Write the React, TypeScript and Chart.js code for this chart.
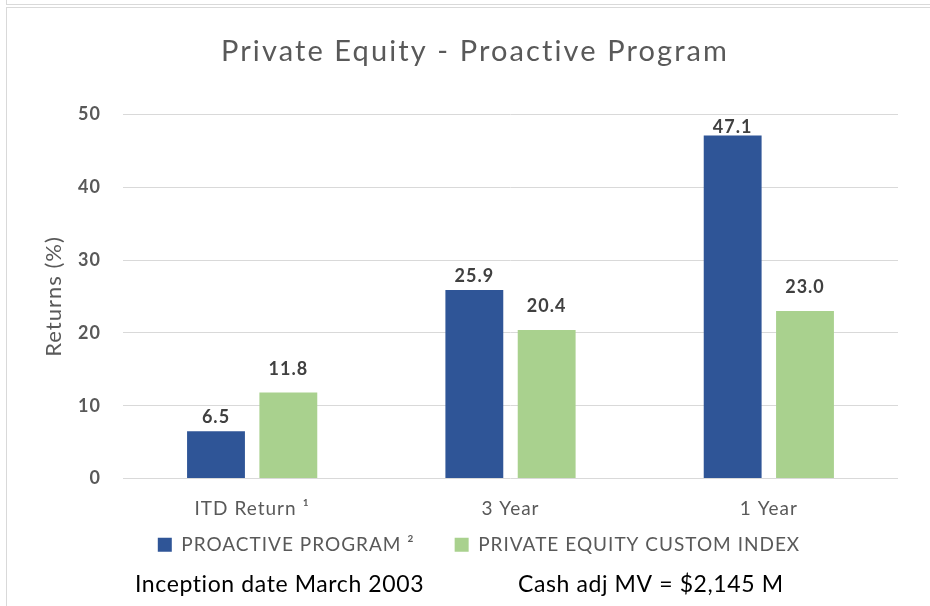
import React, { useEffect, useRef } from "react";
import { Chart, registerables } from "chart.js";

Chart.register(...registerables);

const categories = ["ITD Return \u00B9", "3 Year", "1 Year"];
const seriesNames = ["PROACTIVE PROGRAM \u00B2", "PRIVATE EQUITY CUSTOM INDEX"];
const proactiveValues = [6.5, 25.9, 47.1];
const indexValues = [11.8, 20.4, 23.0];
const yTicks = [0, 10, 20, 30, 40, 50];
const titleText = "Private Equity - Proactive Program";
const yAxisTitle = "Returns (%)";
const footerLeft = "Inception date March 2003";
const footerRight = "Cash adj MV = $2,145 M";

const BLUE = "#2F5597";
const GREEN = "#A9D18E";
const GRAY = "#595959";
const FONT = "Lato, 'Open Sans', sans-serif";

const labelOffsets = [8, 18];
const LEGEND_PAD = 40;
const LEGEND_ITEM_Y = 535.2;
const LEGEND_SHIFT_X = 4;

const spacingPlugin = {
  id: "letterSpacing",
  beforeUpdate(chart: any) {
    chart.ctx.letterSpacing = "1px";
  },
  beforeDraw(chart: any) {
    chart.ctx.letterSpacing = "1px";
  },
  afterLayout(chart: any) {
    const lg = chart.legend;
    if (lg) {
      const h = lg.bottom - lg.top;
      lg.top = LEGEND_ITEM_Y - LEGEND_PAD;
      lg.bottom = lg.top + h;
      lg.left += LEGEND_SHIFT_X;
      lg.right += LEGEND_SHIFT_X;
    }
    const tb = chart.titleBlock;
    if (tb && !tb._spacedDraw) {
      const orig = tb.draw.bind(tb);
      tb.draw = function (...args: any[]) {
        const ctx = chart.ctx;
        const prev = ctx.letterSpacing;
        ctx.letterSpacing = "2.1px";
        orig(...args);
        ctx.letterSpacing = prev;
      };
      tb._spacedDraw = true;
    }
  },
};

const dataLabelPlugin = {
  id: "dataLabels",
  afterDatasetsDraw(chart: any) {
    const ctx = chart.ctx;
    ctx.save();
    ctx.font = `bold 18px ${FONT}`;
    ctx.fillStyle = "#404040";
    ctx.textAlign = "center";
    ctx.textBaseline = "alphabetic";
    chart.data.datasets.forEach((ds: any, di: number) => {
      const meta = chart.getDatasetMeta(di);
      meta.data.forEach((bar: any, i: number) => {
        const v = ds.data[i];
        let y = bar.y - labelOffsets[di];
        y = Math.max(y, chart.chartArea.top + 18);
        ctx.fillText(Number(v).toFixed(1), bar.x, y);
      });
    });
    ctx.restore();
  },
};

const footerPlugin = {
  id: "footerTexts",
  afterDraw(chart: any) {
    const ctx = chart.ctx;
    ctx.save();
    ctx.letterSpacing = "0.6px";
    ctx.font = `23px ${FONT}`;
    ctx.fillStyle = "#000000";
    ctx.textAlign = "left";
    ctx.textBaseline = "alphabetic";
    ctx.fillText(footerLeft, 135, 592);
    ctx.fillText(footerRight, 518, 592);
    ctx.restore();
  },
};

export default function App() {
  const ref = useRef<HTMLCanvasElement | null>(null);

  useEffect(() => {
    if (!ref.current) return;
    const chart = new Chart(ref.current, {
      type: "bar",
      data: {
        labels: categories,
        datasets: [
          {
            label: seriesNames[0],
            data: proactiveValues,
            backgroundColor: BLUE,
            borderWidth: 0,
            categoryPercentage: 0.56,
            barPercentage: 0.8,
          },
          {
            label: seriesNames[1],
            data: indexValues,
            backgroundColor: GREEN,
            borderWidth: 0,
            categoryPercentage: 0.56,
            barPercentage: 0.8,
          },
        ],
      },
      options: {
        animation: false,
        responsive: false,
        maintainAspectRatio: false,
        devicePixelRatio: 1,
        layout: { padding: { left: 52, right: 32, top: 0, bottom: 13.5 } },
        plugins: {
          title: {
            display: true,
            text: titleText,
            color: GRAY,
            font: { family: FONT, size: 29, weight: "normal" },
            padding: { top: 34.6, bottom: 45.1 },
          },
          legend: {
            display: true,
            position: "bottom",
            labels: {
              color: GRAY,
              font: { family: FONT, size: 19 },
              boxWidth: 14,
              boxHeight: 14,
              padding: LEGEND_PAD,
            },
          },
          tooltip: { enabled: false },
        },
        scales: {
          x: {
            grid: { display: false, drawTicks: false },
            border: { display: false },
            ticks: {
              color: GRAY,
              font: { family: FONT, size: 19 },
              padding: 18.6,
              autoSkip: false,
              maxRotation: 0,
            },
            afterFit: (s: any) => {
              s.height = 45;
            },
          },
          y: {
            min: 0,
            max: 50,
            afterBuildTicks: (s: any) => {
              s.ticks = yTicks.map((v) => ({ value: v }));
            },
            grid: { color: "#D9D9D9", lineWidth: 1, drawTicks: false },
            border: { display: false },
            ticks: {
              color: GRAY,
              font: { family: FONT, size: 18, weight: "bold" },
              padding: 22,
            },
            title: {
              display: true,
              text: yAxisTitle,
              color: GRAY,
              font: { family: FONT, size: 22, weight: "normal" },
              padding: { top: -11, bottom: 0 },
            },
            afterFit: (s: any) => {
              s.width = 71;
            },
          },
        },
      },
      plugins: [spacingPlugin, dataLabelPlugin, footerPlugin],
    });
    if ((document as any).fonts) {
      Promise.all([
        (document as any).fonts.load(`19px Lato`),
        (document as any).fonts.load(`bold 18px Lato`),
      ]).then(() => chart.update()).catch(() => {});
    }
    return () => chart.destroy();
  }, []);

  return (
    <div
      style={{
        position: "absolute",
        left: 0,
        top: 0,
        width: 930,
        height: 606,
        overflow: "hidden",
        background: "#ffffff",
      }}
    >
      <div
        style={{
          position: "absolute",
          left: 6,
          top: -20,
          width: 1000,
          height: 25,
          boxSizing: "border-box",
          border: "1px solid #D9D9D9",
        }}
      />
      <div
        style={{
          position: "absolute",
          left: 6,
          top: 7,
          width: 1000,
          height: 700,
          boxSizing: "border-box",
          border: "1px solid #D9D9D9",
        }}
      />
      <canvas
        ref={ref}
        width={930}
        height={606}
        style={{ position: "absolute", left: 0, top: 0, width: 930, height: 606 }}
      />
    </div>
  );
}
